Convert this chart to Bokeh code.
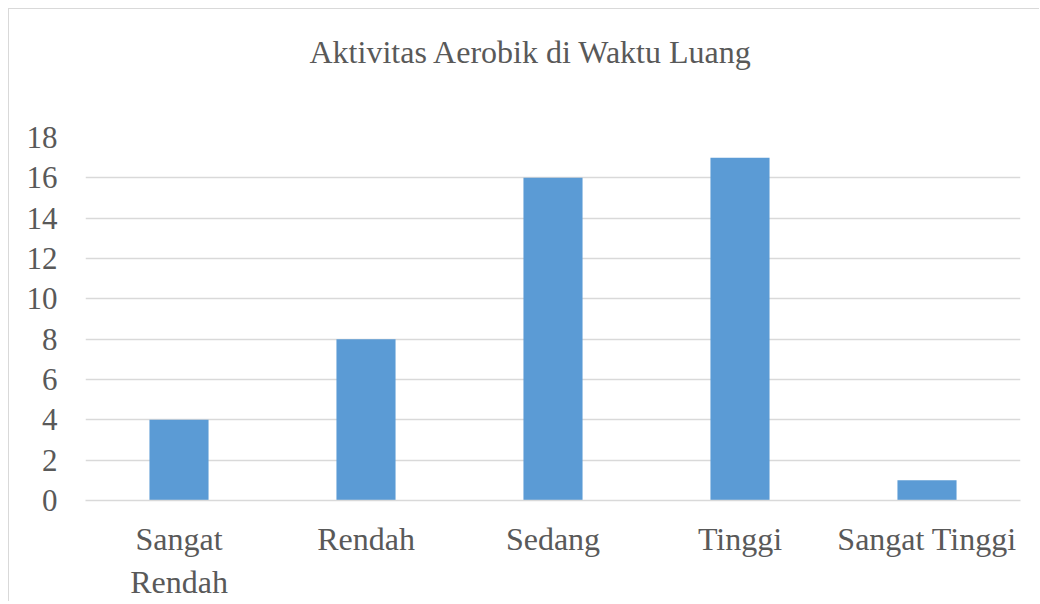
from bokeh.plotting import figure
from bokeh.models import FactorRange, Range1d, SingleIntervalTicker, Title
from bokeh.embed import file_html
from bokeh.resources import INLINE

categories = ["Sangat\nRendah", "Rendah", "Sedang", "Tinggi", "Sangat Tinggi"]
values = [4, 8, 16, 17, 1]
title_text = "Aktivitas Aerobik di Waktu Luang"

FONT = "Liberation Serif"
TXT = "#595959"
GRID = "#D9D9D9"

p = figure(width=1031, height=593, output_backend="svg", toolbar_location=None,
           x_range=FactorRange(*categories, range_padding=0),
           y_range=Range1d(0, 18),
           min_border_left=76, min_border_right=20, min_border_top=128, min_border_bottom=102)
p.styles = {"margin-left": "8px", "margin-top": "8px",
            "border-left": "1px solid #D9D9D9", "border-top": "1px solid #D9D9D9"}
p.outline_line_color = None
p.background_fill_color = "white"
p.border_fill_color = "white"

p.vbar(x=categories, top=values, width=0.316, fill_color="#5B9BD5", line_color=None)

p.yaxis.ticker = SingleIntervalTicker(interval=2)
p.ygrid.ticker = SingleIntervalTicker(interval=2)
p.ygrid.grid_line_color = GRID
p.ygrid.grid_line_width = 1.5
p.xgrid.grid_line_color = None

for ax in (p.xaxis, p.yaxis):
    ax.axis_line_color = None
    ax.major_tick_line_color = None
    ax.minor_tick_line_color = None
    ax.major_tick_out = 0
    ax.major_tick_in = 0
    ax.minor_tick_out = 0
    ax.major_label_text_font = FONT
    ax.major_label_text_color = TXT

p.xaxis.axis_line_color = GRID
p.xaxis.axis_line_width = 1.5

p.yaxis.major_label_text_font_size = "31px"
p.xaxis.major_label_text_font_size = "32px"
p.yaxis.major_label_standoff = 28
p.xaxis.major_label_standoff = 20

# spacer between the title and the plot area
p.add_layout(Title(text=" ", standoff=43, text_font_size="1px"), "above")
p.title = Title(text=title_text, align="left", offset=224, standoff=44,
                text_font=FONT, text_font_size="32px", text_color=TXT,
                text_font_style="normal")

open("out.html", "w").write(file_html(p, INLINE))
